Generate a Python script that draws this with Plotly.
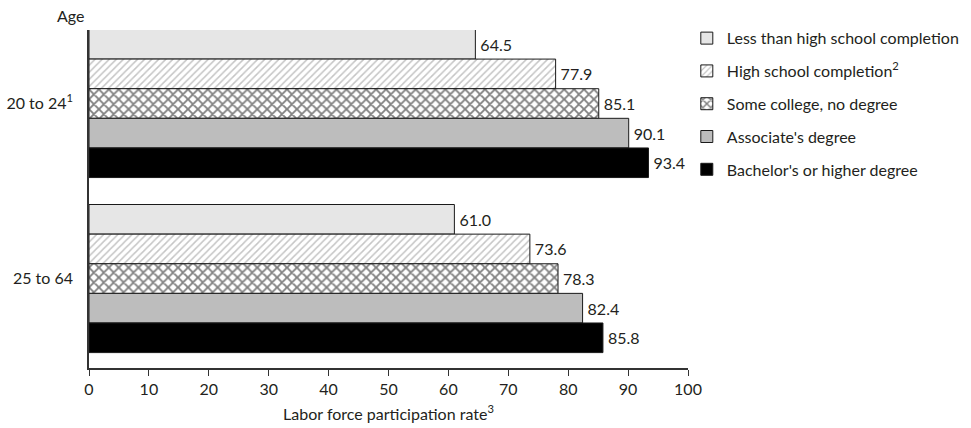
import plotly.graph_objects as go

age_groups = ["20 to 24<sup>1</sup>", "25 to 64"]
series_names = [
    "Less than high school completion",
    "High school completion<sup>2</sup>",
    "Some college, no degree",
    "Associate's degree",
    "Bachelor's or higher degree",
]
less_than_hs = [64.5, 61.0]
hs_completion = [77.9, 73.6]
some_college = [85.1, 78.3]
associates = [90.1, 82.4]
bachelors = [93.4, 85.8]
x_ticks = [0, 10, 20, 30, 40, 50, 60, 70, 80, 90, 100]

values = [less_than_hs, hs_completion, some_college, associates, bachelors]
fills = ["#e6e6e6", "#ffffff", "#ffffff", "#bdbdbd", "#000000"]
patterns = [
    dict(shape=""),
    dict(shape="/", fgcolor="#8c8c8c", bgcolor="#ffffff", size=5, solidity=0.3),
    dict(shape="x", fgcolor="#000000", bgcolor="#ffffff", size=7, solidity=0.45),
    dict(shape=""),
    dict(shape=""),
]

FONT = "Lato, 'Open Sans', sans-serif"
TXT = "#231f20"
FS = 16

fig = go.Figure()
for i, (name, vals) in enumerate(zip(series_names, values)):
    fig.add_trace(go.Bar(
        y=age_groups, x=vals, name=name, orientation="h",
        legendgroup=f"g{i}",
        marker=dict(color=fills[i], line=dict(color="#1a1a1a", width=1),
                    pattern=patterns[i]),
        texttemplate="\u2009%{x:.1f}", textposition="outside",
        textfont=dict(size=FS, color=TXT, family=FONT),
        cliponaxis=False, hoverinfo="x+name",
    ))

fig.update_layout(
    width=971, height=428,
    margin=dict(l=89, r=283, t=30, b=60, autoexpand=False),
    barmode="group", bargap=0.154, bargroupgap=0,
    plot_bgcolor="white", paper_bgcolor="white",
    font=dict(family=FONT, size=FS, color=TXT),
    legend=dict(x=0.998, y=1.026, xanchor="left", yanchor="top",
                tracegroupgap=9, itemwidth=30,
                font=dict(size=FS, color=TXT, family=FONT),
                bgcolor="rgba(0,0,0,0)"),
    xaxis=dict(range=[0, 100], tickvals=x_ticks, ticks="outside", ticklen=6,
               tickcolor="#333", showline=True, linecolor="#333", linewidth=1.5,
               showgrid=False, zeroline=False, tickfont=dict(size=FS),
               automargin=False,
               title=dict(text="Labor force participation rate<sup>3</sup>",
                          font=dict(size=FS), standoff=12)),
    yaxis=dict(type="category", categoryarray=age_groups, range=[1.511, -0.42],
               showline=True, linecolor="#333", linewidth=1.5, showgrid=False,
               zeroline=False, ticks="", ticklabelstandoff=11, automargin=False,
               tickfont=dict(size=FS)),
    annotations=[dict(text="Age", x=-0.0317, y=1.044, xref="paper", yref="paper",
                      xanchor="center", yanchor="middle", showarrow=False,
                      font=dict(size=FS, color=TXT))],
)

fig.write_html("out.html", config={"displayModeBar": False},
               post_script="document.body.style.margin='0';")
